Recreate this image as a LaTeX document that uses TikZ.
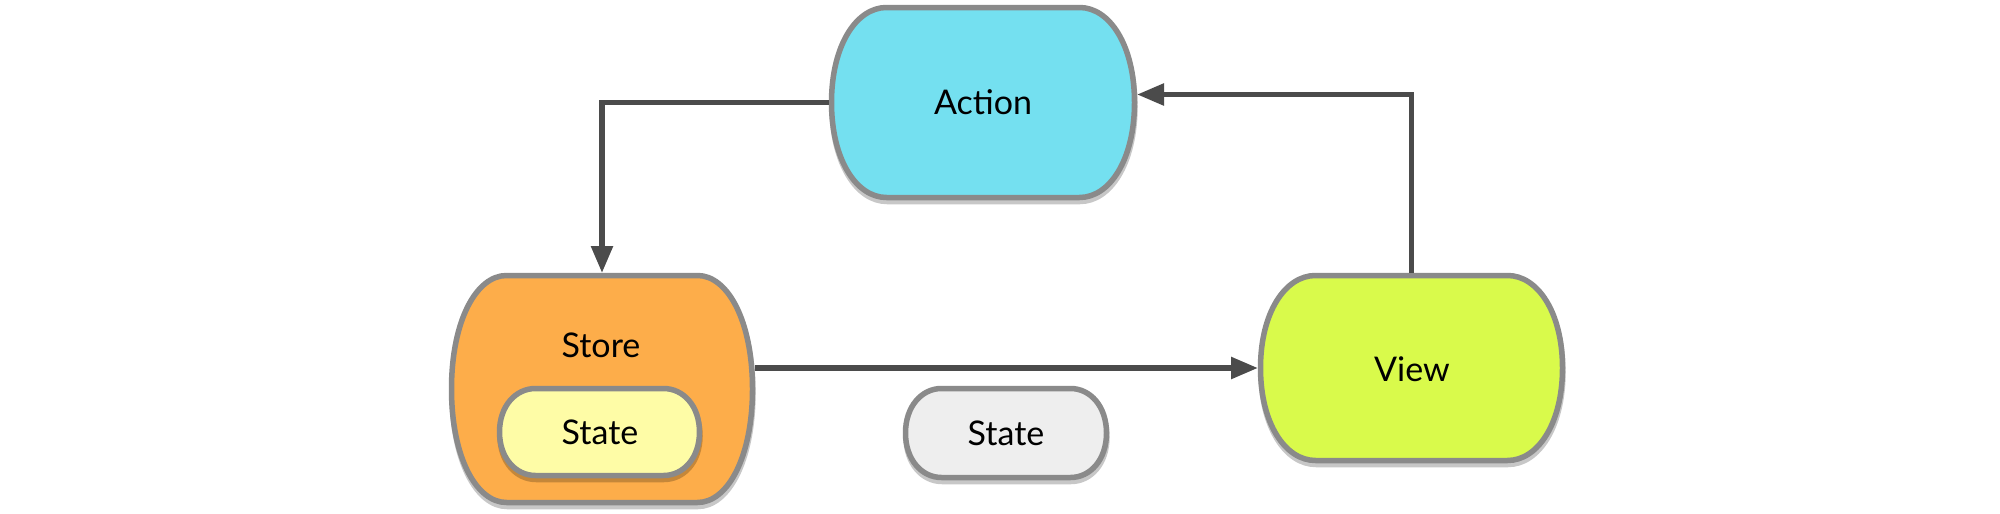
\documentclass[tikz,border=0pt]{standalone}
\usepackage{fontspec}
\setmainfont{Lato}
\usetikzlibrary{arrows.meta,calc}
\definecolor{bordergray}{HTML}{8A8A8A}
\definecolor{linegray}{HTML}{4B4B4B}
\definecolor{actcyan}{HTML}{74E0F0}
\definecolor{storeorange}{HTML}{FDAD4A}
\definecolor{stateyellow}{HTML}{FEFCA6}
\definecolor{stategray}{HTML}{EEEEEE}
\definecolor{viewlime}{HTML}{D9FA4B}
% cx cy w h d k a  (k: fraction of h for the side control, a: corner control fraction of d)
\newcommand{\bulgepath}[7]{(#1-#3+#5,#2-#4) -- (#1+#3-#5,#2-#4) .. controls (#1+#3-#7*#5,#2-#4) and (#1+#3,#2-#6*#4) .. (#1+#3,#2) .. controls (#1+#3,#2+#6*#4) and (#1+#3-#7*#5,#2+#4) .. (#1+#3-#5,#2+#4) -- (#1-#3+#5,#2+#4) .. controls (#1-#3+#7*#5,#2+#4) and (#1-#3,#2+#6*#4) .. (#1-#3,#2) .. controls (#1-#3,#2-#6*#4) and (#1-#3+#7*#5,#2-#4) .. cycle}
\newcommand{\bulgebox}[8]{%
  \begin{scope}[transparency group,opacity=0.22]
    \path[fill=black,draw=black,line width=5.5pt,shift={(0.5,4)}] \bulgepath{#1}{#2}{#3}{#4}{#5}{#6}{#7};
  \end{scope}
  \path[fill=#8,draw=bordergray,line width=5.5pt] \bulgepath{#1}{#2}{#3}{#4}{#5}{#6}{#7};
}
\tikzset{
  txt/.style={font=\fontsize{34}{40}\selectfont,text=black,inner sep=0pt},
  shapenode/.style={inner sep=0pt,outer sep=0pt,draw=none},
  arr/.style={draw=linegray,line width=5.5pt,-{Triangle[width=21pt,length=27pt]}}
}
\begin{document}
\begin{tikzpicture}[x=1pt,y=-1pt]
\useasboundingbox[fill=white] (0,0) rectangle (2000,514);
% shapes
\bulgebox{983}{102.5}{151.5}{95}{55}{0.6}{0.45}{actcyan}
\bulgebox{602}{389}{150.5}{113.5}{55}{0.6}{0.45}{storeorange}
\bulgebox{599.5}{432}{100}{43.5}{36}{0.6}{0.45}{stateyellow}
\bulgebox{1006}{433}{100.5}{44.5}{36}{0.6}{0.45}{stategray}
\bulgebox{1411.5}{368}{151}{92.5}{55}{0.6}{0.45}{viewlime}
% nodes (anchors matching the drawn shapes)
\node[shapenode,minimum width=308pt,minimum height=195pt] (act) at (983,102.5) {};
\node[shapenode,minimum width=306pt,minimum height=232pt] (store) at (602,389) {};
\node[shapenode,minimum width=307pt,minimum height=190pt] (view) at (1411.5,368) {};
\node[txt] (acttxt) at (983,102) {Action};
\node[txt] (storetxt) at (601,345) {Store};
\node[txt] (innerstate) at (600,432) {State};
\node[txt] (freestate) at (1006,433) {State};
\node[txt] (viewtxt) at (1412,369) {View};
% connectors
\draw[arr] (act.west) -| (store.north);
\draw[arr] (store.east |- view.west) -- (view.west);
\draw[arr] (view.north) |- ($(act.east)+(0,-8)$);
\end{tikzpicture}
\end{document}
